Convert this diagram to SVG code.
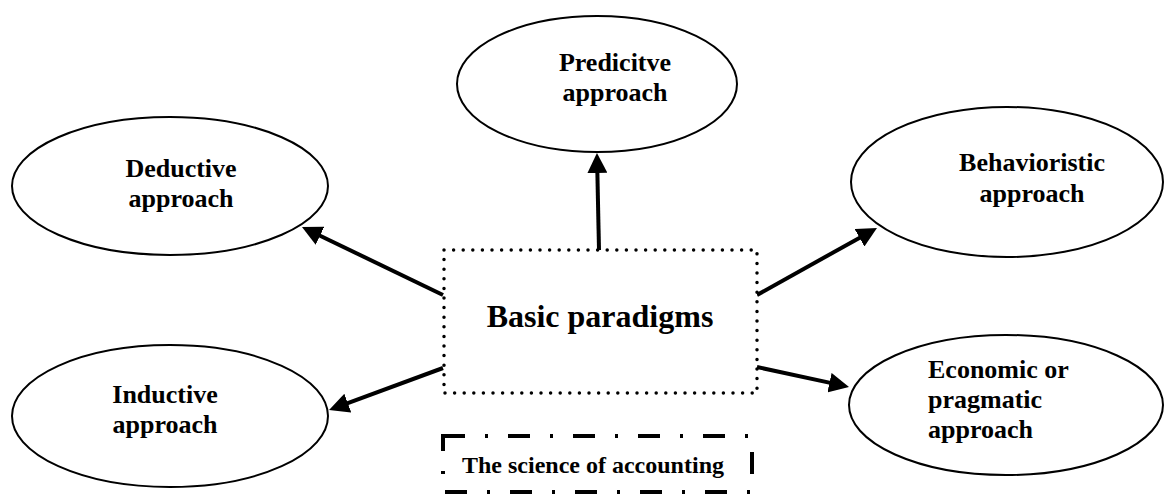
<svg xmlns="http://www.w3.org/2000/svg" width="1166" height="494" viewBox="0 0 1166 494">
<defs>
<style>
.ell{fill:#fff;stroke:#000;stroke-width:2}
.lbl{font-family:"Liberation Serif","Times New Roman",serif;font-weight:bold;font-size:26px;fill:#000}
.c{text-anchor:middle}
.arr{stroke:#000;stroke-width:4;fill:none;marker-end:url(#ah)}
</style>
<marker id="ah" viewBox="0 0 20 20" markerWidth="20" markerHeight="20" markerUnits="userSpaceOnUse" refX="8" refY="10" orient="auto">
<path d="M0,0 L20,10 L0,20 z" fill="#000"/>
</marker>
</defs>
<rect width="1166" height="494" fill="#fff"/>
<g id="connectors">
<line class="arr" x1="599" y1="250" x2="597.2" y2="165"/>
<line class="arr" x1="443" y1="295" x2="312.8" y2="232.2"/>
<line class="arr" x1="757" y1="295" x2="866.5" y2="233.9"/>
<line class="arr" x1="443" y1="368" x2="340.3" y2="405.9"/>
<line class="arr" x1="757" y1="367" x2="837.3" y2="384.4"/>
</g>
<g id="predictive">
<ellipse class="ell" cx="597" cy="84" rx="140" ry="68"/>
<text class="lbl c" x="615" y="71">Predicitve</text>
<text class="lbl c" x="615" y="101">approach</text>
</g>
<g id="deductive">
<ellipse class="ell" cx="170" cy="186" rx="158" ry="69"/>
<text class="lbl c" x="181" y="177">Deductive</text>
<text class="lbl c" x="181" y="207">approach</text>
</g>
<g id="behavioristic">
<ellipse class="ell" cx="1007" cy="182" rx="156" ry="75"/>
<text class="lbl c" x="1032" y="171">Behavioristic</text>
<text class="lbl c" x="1032" y="202">approach</text>
</g>
<g id="inductive">
<ellipse class="ell" cx="170" cy="416" rx="158" ry="71"/>
<text class="lbl c" x="165" y="403">Inductive</text>
<text class="lbl c" x="165" y="433">approach</text>
</g>
<g id="economic">
<ellipse class="ell" cx="1006" cy="405" rx="157" ry="70"/>
<text class="lbl" x="928" y="378">Economic or</text>
<text class="lbl" x="928" y="408">pragmatic</text>
<text class="lbl" x="928" y="438">approach</text>
</g>
<g id="basic">
<rect x="444" y="250" width="313" height="143" fill="#fff" stroke="#000" stroke-width="3.5" stroke-linecap="round" stroke-dasharray="0 9.6"/>
<text class="lbl c" x="600" y="327" style="font-size:32px">Basic paradigms</text>
</g>
<g id="science">
<rect x="443" y="436" width="309" height="56" fill="none" stroke="#000" stroke-width="4" stroke-dasharray="22 20 3 20"/>
<text class="lbl" x="462" y="473" style="font-size:24px">The science of accounting</text>
</g>
</svg>
